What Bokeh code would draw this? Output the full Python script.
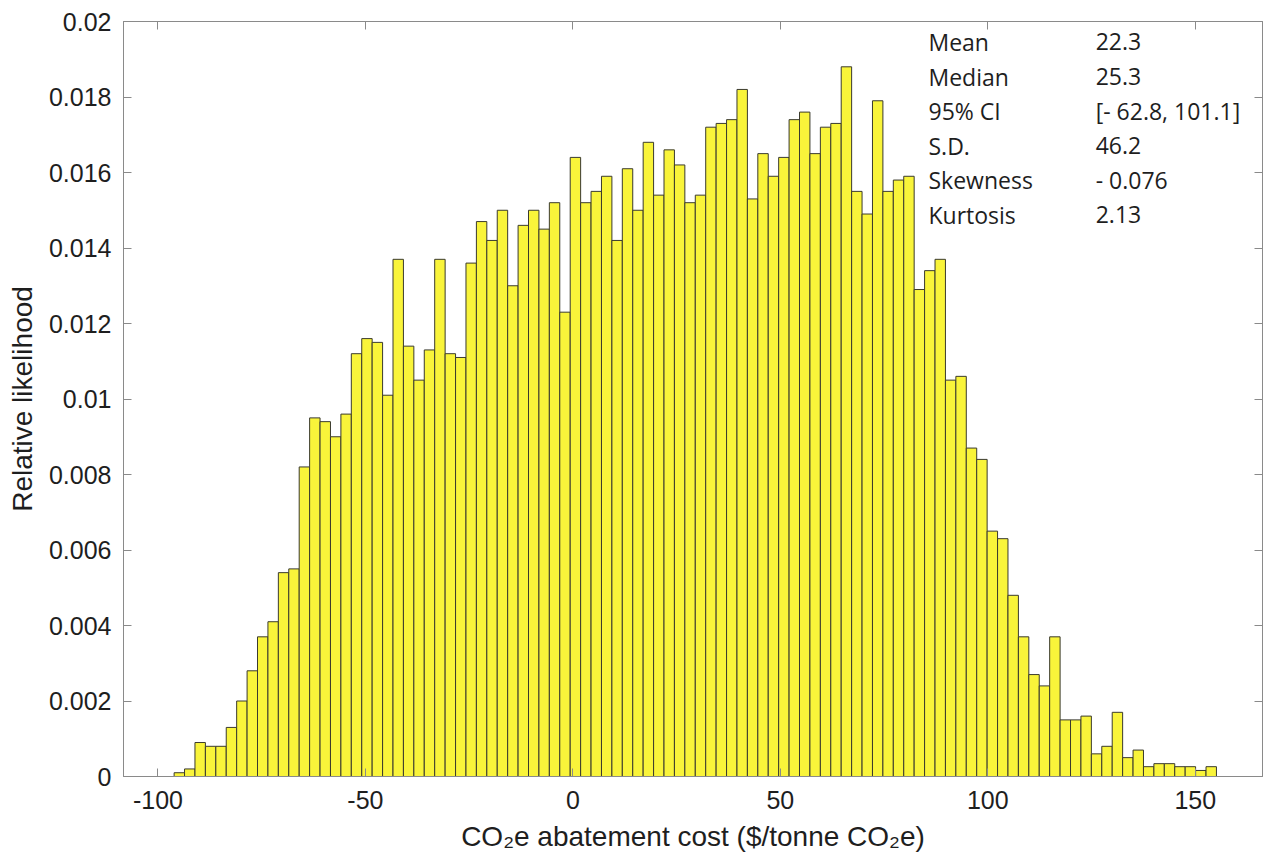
import numpy as np
from bokeh.plotting import figure
from bokeh.models import (Range1d, LinearAxis, FixedTicker, ColumnDataSource,
                          CustomLabelingPolicy)
from bokeh.core.properties import value
from bokeh.embed import file_html
from bokeh.resources import INLINE

# Histogram of CO2e abatement cost: 100 equal bins
bin_start = -96.1
bin_width = 2.512
likelihood = [
    0.0001, 0.0002, 0.0009, 0.0008, 0.0008, 0.0013, 0.0020, 0.0028, 0.0037, 0.0041,
    0.0054, 0.0055, 0.0082, 0.0095, 0.0094, 0.0090, 0.0096, 0.0112, 0.0116, 0.0115,
    0.0101, 0.0137, 0.0114, 0.0105, 0.0113, 0.0137, 0.0112, 0.0111, 0.0136, 0.0147,
    0.0142, 0.0150, 0.0130, 0.0146, 0.0150, 0.0145, 0.0152, 0.0123, 0.0164, 0.0152,
    0.0155, 0.0159, 0.0142, 0.0161, 0.0150, 0.0168, 0.0154, 0.0166, 0.0162, 0.0152,
    0.0154, 0.0172, 0.0173, 0.0174, 0.0182, 0.0153, 0.0165, 0.0159, 0.0164, 0.0174,
    0.0176, 0.0165, 0.0172, 0.0173, 0.0188, 0.0155, 0.0149, 0.0179, 0.0155, 0.0158,
    0.0159, 0.0129, 0.0134, 0.0137, 0.0105, 0.0106, 0.0087, 0.0084, 0.0065, 0.0063,
    0.0048, 0.0037, 0.0027, 0.0024, 0.0037, 0.0015, 0.0015, 0.0016, 0.0006, 0.0008,
    0.0017, 0.0005, 0.0007, 0.00026, 0.00034, 0.00034, 0.00026, 0.00026, 0.00016, 0.00026,
]

x_ticks = [-100, -50, 0, 50, 100, 150]
x_tick_labels = ["-100", "-50", "0", "50", "100", "150"]
y_ticks = [0, 0.002, 0.004, 0.006, 0.008, 0.01, 0.012, 0.014, 0.016, 0.018, 0.02]
y_tick_labels = ["0", "0.002", "0.004", "0.006", "0.008", "0.01",
                 "0.012", "0.014", "0.016", "0.018", "0.02"]

stat_names = ["Mean", "Median", "95% CI", "S.D.", "Skewness", "Kurtosis"]
stat_values = ["22.3", "25.3", "[- 62.8, 101.1]", "46.2", "- 0.076", "2.13"]

left_edges = bin_start + bin_width * np.arange(len(likelihood))
src = ColumnDataSource(dict(left=left_edges, right=left_edges + bin_width,
                            top=likelihood))

AX = "#8a8a8a"
TXT = "#1e1e1e"

p = figure(width=1263, height=858,
           x_range=Range1d(-108.3, 166.2), y_range=Range1d(0, 0.02),
           output_backend="svg", toolbar_location=None,
           min_border_left=123, min_border_right=1,
           min_border_top=21, min_border_bottom=82)
p.background_fill_color = "white"
p.border_fill_color = "white"
p.outline_line_color = AX
p.xgrid.visible = False
p.ygrid.visible = False

p.quad(left="left", right="right", bottom=0, top="top", source=src,
       fill_color="#f9f43a", line_color="#3a3a2e", line_width=1)

# bottom axis
xa = p.xaxis[0]
xa.ticker = FixedTicker(ticks=x_ticks)
xa.major_label_overrides = {t: s for t, s in zip(x_ticks, x_tick_labels)}
xa.axis_label = "CO\u2082e abatement cost ($/tonne CO\u2082e)"
xa.axis_label_text_font = "Liberation Sans"
xa.axis_label_text_font_size = "28px"
xa.axis_label_text_font_style = "normal"
xa.axis_label_text_color = TXT
xa.axis_label_standoff = 9
xa.major_label_text_font = "Liberation Sans"
xa.major_label_text_font_size = "25px"
xa.major_label_text_color = TXT
xa.major_label_standoff = 14
xa.major_tick_in = 8
xa.major_tick_out = 0
xa.minor_tick_in = 0
xa.minor_tick_out = 0
xa.axis_line_color = AX
xa.major_tick_line_color = AX

# left axis
ya = p.yaxis[0]
ya.ticker = FixedTicker(ticks=y_ticks)
ya.major_label_overrides = {t: s for t, s in zip(y_ticks, y_tick_labels)}
ya.axis_label = "Relative likelihood"
ya.axis_label_text_font = "Liberation Sans"
ya.axis_label_text_font_size = "28px"
ya.axis_label_text_font_style = "normal"
ya.axis_label_text_color = TXT
ya.axis_label_standoff = 8
ya.major_label_text_font = "Liberation Sans"
ya.major_label_text_font_size = "25px"
ya.major_label_text_color = TXT
ya.major_label_standoff = 12
ya.major_tick_in = 8
ya.major_tick_out = 0
ya.minor_tick_in = 0
ya.minor_tick_out = 0
ya.axis_line_color = AX
ya.major_tick_line_color = AX

# box axes on top and right carry ticks only
for loc, ticks in (("above", x_ticks), ("right", y_ticks)):
    ax = LinearAxis(ticker=FixedTicker(ticks=ticks),
                    major_label_policy=CustomLabelingPolicy(code="return []"),
                    major_label_text_font_size="0px",
                    major_label_standoff=0,
                    major_tick_in=8, major_tick_out=0,
                    minor_tick_in=0, minor_tick_out=0,
                    axis_line_color=AX, major_tick_line_color=AX)
    p.add_layout(ax, loc)

# summary statistics block
row_y = 0.01946 - 0.000917 * np.arange(len(stat_names))
p.text(x=[85.7] * len(stat_names), y=row_y, text=stat_names,
       text_font=value("Open Sans"), text_font_size="23px",
       text_color=TXT, text_baseline="middle", text_align="left")
p.text(x=[126.0] * len(stat_values), y=row_y, text=stat_values,
       text_font=value("Open Sans"), text_font_size="23px",
       text_color=TXT, text_baseline="middle", text_align="left")

open("out.html", "w").write(file_html(p, INLINE))
